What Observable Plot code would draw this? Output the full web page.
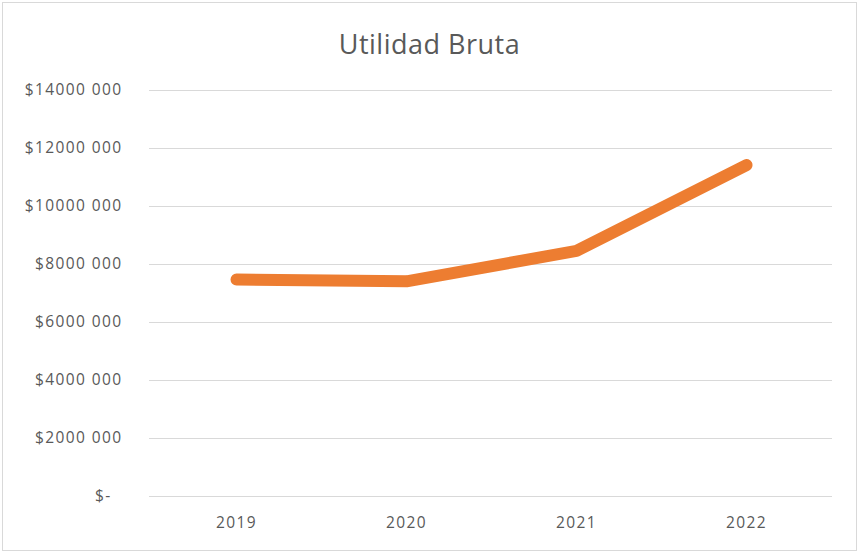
<!DOCTYPE html>
<html>
<head>
<meta charset="utf-8">
<script src="https://cdn.jsdelivr.net/npm/d3@7"></script>
<script src="https://cdn.jsdelivr.net/npm/@observablehq/plot@0.6"></script>
<style>
  html, body { margin: 0; padding: 0; background: #fff; }
  #chart { position: relative; width: 853px; height: 547px; margin: 2px; border: 1px solid #d9d9d9; background: #fff; overflow: hidden; }
  #title { height: 67px; line-height: 82px; text-align: center; font-family: "Open Sans", sans-serif; font-size: 27px; letter-spacing: 0.5px; color: #595959; }
  svg { display: block; }
  svg text { letter-spacing: 1.4px; }
</style>
</head>
<body>
<div id="chart"><div id="title">Utilidad Bruta</div></div>
<script>
const years = ["2019", "2020", "2021", "2022"];
const utilidad = [7480000, 7420000, 8470000, 11430000];
const yTicks = [0, 2000000, 4000000, 6000000, 8000000, 10000000, 12000000, 14000000];
const yTickLabels = ["$-\u00a0\u00a0", "$2000 000", "$4000 000", "$6000 000", "$8000 000", "$10000 000", "$12000 000", "$14000 000"];

const data = years.map((y, i) => ({year: y, value: utilidad[i]}));

const plot = Plot.plot({
  width: 853,
  height: 480,
  marginTop: 20,
  marginBottom: 54,
  marginLeft: 146,
  marginRight: 24,
  style: {fontFamily: '"Open Sans", sans-serif', fontSize: "15.5px", color: "#595959", background: "#fff"},
  x: {type: "point", domain: years, padding: 0.5, label: null, tickSize: 0, tickPadding: 20},
  y: {domain: [0, 14000000], ticks: yTicks, tickFormat: d => yTickLabels[yTicks.indexOf(d)], label: null, tickSize: 0, tickPadding: 27},
  marks: [
    Plot.gridY(yTicks, {stroke: "#d9d9d9", strokeOpacity: 1, strokeWidth: 1}),
    Plot.line(data, {x: "year", y: "value", stroke: "#ED7D31", strokeWidth: 12, strokeLinecap: "round", strokeLinejoin: "round"})
  ]
});
document.getElementById("chart").appendChild(plot);
</script>
</body>
</html>
